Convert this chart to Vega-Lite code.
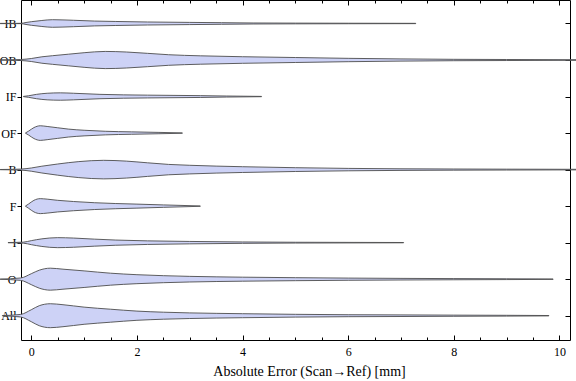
{
  "$schema": "https://vega.github.io/schema/vega-lite/v6.json",
  "width": 549,
  "height": 340,
  "autosize": {"type": "none"},
  "padding": {"left": 21, "top": 0, "right": 6, "bottom": 41},
  "config": {
    "view": {"stroke": "#000000", "strokeWidth": 1},
    "font": "Liberation Serif",
    "axis": {"grid": false, "domain": false, "tickColor": "#000000", "labelColor": "#000000", "labelFont": "Liberation Serif", "titleFont": "Liberation Serif", "labelFontSize": 12, "titleFontWeight": "normal", "titleColor": "#000000"}
  },
  "data": {
    "values": [
      {"cat": "IB", "x": -0.59, "hi": 9.003, "lo": 8.997},
      {"cat": "IB", "x": -0.2, "hi": 9.004, "lo": 8.996},
      {"cat": "IB", "x": -0.1, "hi": 9.027, "lo": 8.973},
      {"cat": "IB", "x": 0, "hi": 9.049, "lo": 8.951},
      {"cat": "IB", "x": 0.2, "hi": 9.082, "lo": 8.918},
      {"cat": "IB", "x": 0.4, "hi": 9.104, "lo": 8.896},
      {"cat": "IB", "x": 0.6, "hi": 9.098, "lo": 8.902},
      {"cat": "IB", "x": 0.8, "hi": 9.088, "lo": 8.912},
      {"cat": "IB", "x": 1.2, "hi": 9.066, "lo": 8.934},
      {"cat": "IB", "x": 1.6, "hi": 9.055, "lo": 8.945},
      {"cat": "IB", "x": 2.2, "hi": 9.041, "lo": 8.959},
      {"cat": "IB", "x": 3.0, "hi": 9.030, "lo": 8.970},
      {"cat": "IB", "x": 3.6, "hi": 9.022, "lo": 8.978},
      {"cat": "IB", "x": 4.2, "hi": 9.014, "lo": 8.986},
      {"cat": "IB", "x": 5.0, "hi": 9.010, "lo": 8.990},
      {"cat": "IB", "x": 6.0, "hi": 9.007, "lo": 8.993},
      {"cat": "IB", "x": 7.28, "hi": 9.004, "lo": 8.996},

      {"cat": "OB", "x": -0.59, "hi": 8.003, "lo": 7.997},
      {"cat": "OB", "x": -0.2, "hi": 8.014, "lo": 7.986},
      {"cat": "OB", "x": 0, "hi": 8.041, "lo": 7.959},
      {"cat": "OB", "x": 0.2, "hi": 8.088, "lo": 7.912},
      {"cat": "OB", "x": 0.4, "hi": 8.118, "lo": 7.882},
      {"cat": "OB", "x": 0.7, "hi": 8.159, "lo": 7.841},
      {"cat": "OB", "x": 1.0, "hi": 8.200, "lo": 7.800},
      {"cat": "OB", "x": 1.4, "hi": 8.235, "lo": 7.765},
      {"cat": "OB", "x": 1.8, "hi": 8.219, "lo": 7.781},
      {"cat": "OB", "x": 2.2, "hi": 8.183, "lo": 7.817},
      {"cat": "OB", "x": 2.6, "hi": 8.145, "lo": 7.855},
      {"cat": "OB", "x": 3.2, "hi": 8.115, "lo": 7.885},
      {"cat": "OB", "x": 4.0, "hi": 8.090, "lo": 7.910},
      {"cat": "OB", "x": 5.0, "hi": 8.068, "lo": 7.932},
      {"cat": "OB", "x": 6.0, "hi": 8.046, "lo": 7.954},
      {"cat": "OB", "x": 7.0, "hi": 8.030, "lo": 7.970},
      {"cat": "OB", "x": 8.0, "hi": 8.019, "lo": 7.981},
      {"cat": "OB", "x": 9.0, "hi": 8.014, "lo": 7.986},
      {"cat": "OB", "x": 10.32, "hi": 8.008, "lo": 7.992},

      {"cat": "IF", "x": -0.15, "hi": 7.003, "lo": 6.997},
      {"cat": "IF", "x": -0.05, "hi": 7.022, "lo": 6.978},
      {"cat": "IF", "x": 0.1, "hi": 7.060, "lo": 6.940},
      {"cat": "IF", "x": 0.3, "hi": 7.090, "lo": 6.910},
      {"cat": "IF", "x": 0.55, "hi": 7.101, "lo": 6.899},
      {"cat": "IF", "x": 0.8, "hi": 7.090, "lo": 6.910},
      {"cat": "IF", "x": 1.3, "hi": 7.060, "lo": 6.940},
      {"cat": "IF", "x": 2.2, "hi": 7.038, "lo": 6.962},
      {"cat": "IF", "x": 3.2, "hi": 7.025, "lo": 6.975},
      {"cat": "IF", "x": 3.7, "hi": 7.014, "lo": 6.986},
      {"cat": "IF", "x": 4.36, "hi": 7.004, "lo": 6.996},

      {"cat": "OF", "x": -0.11, "hi": 6.003, "lo": 5.997},
      {"cat": "OF", "x": -0.05, "hi": 6.055, "lo": 5.945},
      {"cat": "OF", "x": 0.05, "hi": 6.150, "lo": 5.850},
      {"cat": "OF", "x": 0.17, "hi": 6.200, "lo": 5.800},
      {"cat": "OF", "x": 0.3, "hi": 6.181, "lo": 5.819},
      {"cat": "OF", "x": 0.5, "hi": 6.145, "lo": 5.855},
      {"cat": "OF", "x": 0.7, "hi": 6.109, "lo": 5.891},
      {"cat": "OF", "x": 1.0, "hi": 6.077, "lo": 5.923},
      {"cat": "OF", "x": 1.4, "hi": 6.049, "lo": 5.951},
      {"cat": "OF", "x": 1.9, "hi": 6.033, "lo": 5.967},
      {"cat": "OF", "x": 2.4, "hi": 6.019, "lo": 5.981},
      {"cat": "OF", "x": 2.86, "hi": 6.005, "lo": 5.995},

      {"cat": "B", "x": -0.59, "hi": 5.003, "lo": 4.997},
      {"cat": "B", "x": -0.2, "hi": 5.014, "lo": 4.986},
      {"cat": "B", "x": 0, "hi": 5.044, "lo": 4.956},
      {"cat": "B", "x": 0.2, "hi": 5.093, "lo": 4.907},
      {"cat": "B", "x": 0.5, "hi": 5.153, "lo": 4.847},
      {"cat": "B", "x": 0.9, "hi": 5.219, "lo": 4.781},
      {"cat": "B", "x": 1.37, "hi": 5.254, "lo": 4.746},
      {"cat": "B", "x": 1.8, "hi": 5.232, "lo": 4.768},
      {"cat": "B", "x": 2.2, "hi": 5.186, "lo": 4.814},
      {"cat": "B", "x": 2.6, "hi": 5.142, "lo": 4.858},
      {"cat": "B", "x": 3.0, "hi": 5.118, "lo": 4.882},
      {"cat": "B", "x": 4.0, "hi": 5.079, "lo": 4.921},
      {"cat": "B", "x": 5.0, "hi": 5.052, "lo": 4.948},
      {"cat": "B", "x": 6.0, "hi": 5.033, "lo": 4.967},
      {"cat": "B", "x": 7.0, "hi": 5.022, "lo": 4.978},
      {"cat": "B", "x": 8.0, "hi": 5.016, "lo": 4.984},
      {"cat": "B", "x": 9.0, "hi": 5.012, "lo": 4.988},
      {"cat": "B", "x": 10.32, "hi": 5.008, "lo": 4.992},

      {"cat": "F", "x": -0.11, "hi": 4.003, "lo": 3.997},
      {"cat": "F", "x": -0.05, "hi": 4.060, "lo": 3.940},
      {"cat": "F", "x": 0.05, "hi": 4.159, "lo": 3.841},
      {"cat": "F", "x": 0.17, "hi": 4.205, "lo": 3.795},
      {"cat": "F", "x": 0.3, "hi": 4.191, "lo": 3.809},
      {"cat": "F", "x": 0.5, "hi": 4.159, "lo": 3.841},
      {"cat": "F", "x": 0.8, "hi": 4.126, "lo": 3.874},
      {"cat": "F", "x": 1.2, "hi": 4.093, "lo": 3.907},
      {"cat": "F", "x": 1.6, "hi": 4.071, "lo": 3.929},
      {"cat": "F", "x": 2.0, "hi": 4.055, "lo": 3.945},
      {"cat": "F", "x": 2.5, "hi": 4.033, "lo": 3.967},
      {"cat": "F", "x": 3.2, "hi": 4.005, "lo": 3.995},

      {"cat": "I", "x": -0.44, "hi": 3.003, "lo": 2.997},
      {"cat": "I", "x": -0.15, "hi": 3.014, "lo": 2.986},
      {"cat": "I", "x": 0, "hi": 3.055, "lo": 2.945},
      {"cat": "I", "x": 0.2, "hi": 3.104, "lo": 2.896},
      {"cat": "I", "x": 0.5, "hi": 3.137, "lo": 2.863},
      {"cat": "I", "x": 0.8, "hi": 3.126, "lo": 2.874},
      {"cat": "I", "x": 1.2, "hi": 3.096, "lo": 2.904},
      {"cat": "I", "x": 1.6, "hi": 3.071, "lo": 2.929},
      {"cat": "I", "x": 2.2, "hi": 3.049, "lo": 2.951},
      {"cat": "I", "x": 3.0, "hi": 3.033, "lo": 2.967},
      {"cat": "I", "x": 4.0, "hi": 3.019, "lo": 2.981},
      {"cat": "I", "x": 5.0, "hi": 3.011, "lo": 2.989},
      {"cat": "I", "x": 7.05, "hi": 3.004, "lo": 2.996},

      {"cat": "O", "x": -0.59, "hi": 2.003, "lo": 1.997},
      {"cat": "O", "x": -0.2, "hi": 2.033, "lo": 1.967},
      {"cat": "O", "x": 0, "hi": 2.150, "lo": 1.850},
      {"cat": "O", "x": 0.15, "hi": 2.246, "lo": 1.754},
      {"cat": "O", "x": 0.36, "hi": 2.301, "lo": 1.699},
      {"cat": "O", "x": 0.6, "hi": 2.274, "lo": 1.726},
      {"cat": "O", "x": 1.0, "hi": 2.227, "lo": 1.773},
      {"cat": "O", "x": 1.5, "hi": 2.164, "lo": 1.836},
      {"cat": "O", "x": 2.0, "hi": 2.123, "lo": 1.877},
      {"cat": "O", "x": 2.5, "hi": 2.096, "lo": 1.904},
      {"cat": "O", "x": 3.0, "hi": 2.077, "lo": 1.923},
      {"cat": "O", "x": 4.0, "hi": 2.055, "lo": 1.945},
      {"cat": "O", "x": 5.0, "hi": 2.041, "lo": 1.959},
      {"cat": "O", "x": 6.0, "hi": 2.030, "lo": 1.970},
      {"cat": "O", "x": 7.0, "hi": 2.022, "lo": 1.978},
      {"cat": "O", "x": 8.0, "hi": 2.016, "lo": 1.984},
      {"cat": "O", "x": 9.0, "hi": 2.011, "lo": 1.989},
      {"cat": "O", "x": 9.88, "hi": 2.005, "lo": 1.995},

      {"cat": "All", "x": -0.55, "hi": 1.003, "lo": 0.997},
      {"cat": "All", "x": -0.2, "hi": 1.036, "lo": 0.964},
      {"cat": "All", "x": 0, "hi": 1.164, "lo": 0.836},
      {"cat": "All", "x": 0.15, "hi": 1.274, "lo": 0.726},
      {"cat": "All", "x": 0.36, "hi": 1.328, "lo": 0.672},
      {"cat": "All", "x": 0.6, "hi": 1.301, "lo": 0.699},
      {"cat": "All", "x": 1.0, "hi": 1.235, "lo": 0.765},
      {"cat": "All", "x": 1.5, "hi": 1.178, "lo": 0.822},
      {"cat": "All", "x": 2.0, "hi": 1.126, "lo": 0.874},
      {"cat": "All", "x": 2.5, "hi": 1.096, "lo": 0.904},
      {"cat": "All", "x": 3.0, "hi": 1.077, "lo": 0.923},
      {"cat": "All", "x": 4.0, "hi": 1.055, "lo": 0.945},
      {"cat": "All", "x": 5.0, "hi": 1.038, "lo": 0.962},
      {"cat": "All", "x": 6.0, "hi": 1.027, "lo": 0.973},
      {"cat": "All", "x": 7.0, "hi": 1.022, "lo": 0.978},
      {"cat": "All", "x": 8.0, "hi": 1.016, "lo": 0.984},
      {"cat": "All", "x": 9.0, "hi": 1.011, "lo": 0.989},
      {"cat": "All", "x": 9.8, "hi": 1.005, "lo": 0.995}
    ]
  },
  "layer": [
    {
      "mark": {"type": "area", "interpolate": "monotone", "fill": "#cdd2f6", "stroke": "#4d4d4d", "strokeWidth": 0.9, "clip": false},
      "encoding": {
        "x": {"field": "x", "type": "quantitative", "scale": {"domain": [-0.195, 10.2], "nice": false, "zero": false},
              "axis": {"orient": "bottom", "values": [0, 2, 4, 6, 8, 10], "tickSize": -5, "labelPadding": 11, "labelFontSize": 12, "title": "Absolute Error (Scan\u2192Ref) [mm]", "titleFontSize": 14, "titlePadding": 7, "titleX": 288}},
        "y": {"field": "hi", "type": "quantitative", "stack": null, "scale": {"domain": [0.335, 9.643], "nice": false, "zero": false},
              "axis": {"orient": "left", "values": [1, 2, 3, 4, 5, 6, 7, 8, 9], "labelExpr": "['', 'All', 'O', 'I', 'F', 'B', 'OF', 'IF', 'OB', 'IB'][datum.value]", "tickSize": 4, "labelPadding": 1, "labelFontSize": 12, "title": null}},
        "y2": {"field": "lo"},
        "detail": {"field": "cat", "type": "nominal"}
      }
    },
    {
      "mark": {"type": "rule", "opacity": 0},
      "encoding": {
        "x": {"field": "x", "type": "quantitative", "scale": {"domain": [-0.195, 10.2], "nice": false, "zero": false},
              "axis": {"orient": "bottom", "values": [0.5, 1, 1.5, 2.5, 3, 3.5, 4.5, 5, 5.5, 6.5, 7, 7.5, 8.5, 9, 9.5], "tickSize": -3, "labels": false, "title": null}}
      }
    },
    {
      "mark": {"type": "rule", "opacity": 0},
      "encoding": {
        "x": {"field": "x", "type": "quantitative", "scale": {"domain": [-0.195, 10.2], "nice": false, "zero": false},
              "axis": {"orient": "top", "values": [0, 2, 4, 6, 8, 10], "tickSize": -5, "labels": false, "title": null}}
      }
    },
    {
      "mark": {"type": "rule", "opacity": 0},
      "encoding": {
        "x": {"field": "x", "type": "quantitative", "scale": {"domain": [-0.195, 10.2], "nice": false, "zero": false},
              "axis": {"orient": "top", "values": [0.5, 1, 1.5, 2.5, 3, 3.5, 4.5, 5, 5.5, 6.5, 7, 7.5, 8.5, 9, 9.5], "tickSize": -3, "labels": false, "title": null}}
      }
    },
    {
      "mark": {"type": "rule", "opacity": 0},
      "encoding": {
        "y": {"field": "hi", "type": "quantitative", "scale": {"domain": [0.335, 9.643], "nice": false, "zero": false},
              "axis": {"orient": "right", "values": [1, 2, 3, 4, 5, 6, 7, 8, 9], "tickSize": -5, "labels": false, "title": null}}
      }
    }
  ],
  "resolve": {"axis": {"x": "independent", "y": "independent"}}
}
